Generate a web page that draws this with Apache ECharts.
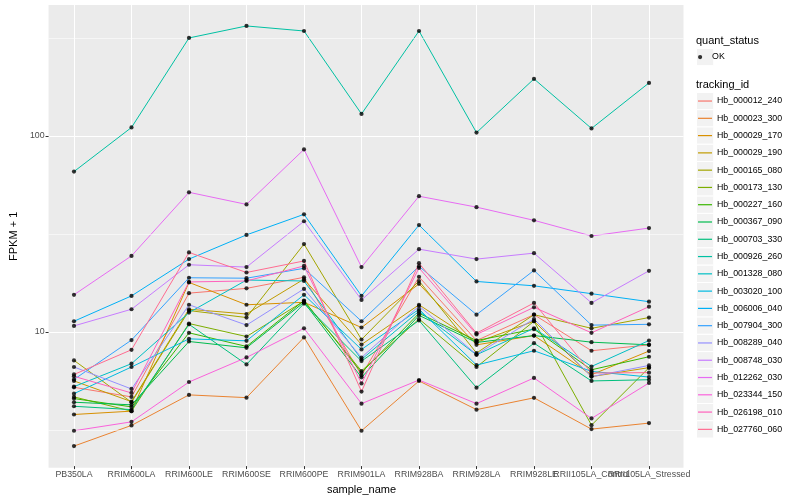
<!DOCTYPE html>
<html>
<head>
<meta charset="utf-8">
<script src="https://cdn.jsdelivr.net/npm/echarts@6/dist/echarts.min.js"></script>
<style>html,body{margin:0;padding:0;background:#fff}#c{width:800px;height:500px}</style>
</head>
<body>
<div id="c"></div>
<script>
const categories = ['PB350LA','RRIM600LA','RRIM600LE','RRIM600SE','RRIM600PE','RRIM901LA','RRIM928BA','RRIM928LA','RRIM928LE','RRII105LA_Control','RRII105LA_Stressed'];
const trackingIds = ['Hb_000012_240','Hb_000023_300','Hb_000029_170','Hb_000029_190','Hb_000165_080','Hb_000173_130','Hb_000227_160','Hb_000367_090','Hb_000703_330','Hb_000926_260','Hb_001328_080','Hb_003020_100','Hb_006006_040','Hb_007904_300','Hb_008289_040','Hb_008748_030','Hb_012262_030','Hb_023344_150','Hb_026198_010','Hb_027760_060'];
const palette = ['#F8766D','#EA8331','#D89000','#C09B00','#A3A500','#7CAE00','#39B600','#00BB4E','#00BF7D','#00C1A3','#00BFC4','#00BAE0','#00B0F6','#35A2FF','#9590FF','#C77CFF','#E76BF3','#FA62DB','#FF62BC','#FF6C91'];

const Hb_000012_240 = [5.14, 4.59, 15.6, 16.5, 18.8, 5.91, 18.9, 8.92, 12.1, 7.91, 8.48];
const Hb_000023_300 = [2.57, 3.28, 4.70, 4.55, 9.25, 3.08, 5.54, 3.95, 4.54, 3.14, 3.37];
const Hb_000029_170 = [3.73, 3.88, 17.7, 13.6, 14.0, 10.4, 17.4, 8.48, 9.46, 5.96, 7.88];
const Hb_000029_190 = [5.54, 4.34, 12.9, 12.2, 18.4, 8.51, 13.6, 8.72, 11.2, 5.83, 6.48];
const Hb_000165_080 = [7.06, 4.31, 12.7, 11.7, 27.8, 9.03, 18.0, 7.70, 12.1, 10.3, 11.7];
const Hb_000173_130 = [4.59, 3.88, 10.9, 9.35, 14.2, 6.23, 11.5, 6.53, 11.2, 3.29, 6.48];
const Hb_000227_160 = [4.50, 4.08, 9.77, 8.32, 14.3, 6.11, 12.3, 8.92, 10.2, 6.32, 7.37];
const Hb_000367_090 = [4.31, 4.18, 8.82, 8.19, 14.0, 5.78, 12.0, 8.72, 9.46, 8.75, 8.48];
const Hb_000703_330 = [4.11, 3.95, 10.8, 6.73, 13.8, 7.00, 11.3, 5.12, 8.65, 5.54, 5.62];
const Hb_000926_260 = [65.4, 110, 316, 364, 343, 129, 343, 103.5, 195, 108.7, 186];
const Hb_001328_080 = [5.18, 6.79, 12.4, 18.2, 18.0, 7.14, 12.6, 7.54, 10.3, 6.57, 8.92];
const Hb_003020_100 = [4.77, 6.53, 9.10, 8.89, 15.3, 8.03, 12.9, 6.68, 7.91, 6.20, 5.80];
const Hb_006006_040 = [11.2, 15.1, 23.3, 31.0, 39.5, 15.1, 34.8, 17.9, 17.0, 15.5, 14.1];
const Hb_007904_300 = [5.64, 8.97, 18.7, 18.6, 20.9, 11.2, 21.4, 12.1, 20.4, 10.7, 10.8];
const Hb_008289_040 = [6.53, 5.04, 13.6, 10.7, 16.4, 7.3, 13.4, 7.57, 11.5, 5.83, 6.65];
const Hb_008748_030 = [10.6, 12.9, 21.8, 21.2, 36.4, 14.4, 26.2, 23.3, 25.0, 13.9, 20.3];
const Hb_012262_030 = [15.3, 24.2, 51.2, 44.4, 84.9, 21.2, 48.9, 43.0, 36.8, 30.6, 33.6];
const Hb_023344_150 = [3.08, 3.42, 5.47, 7.31, 10.3, 4.24, 5.6, 4.24, 5.74, 3.56, 5.41];
const Hb_026198_010 = [5.85, 4.81, 17.8, 18.0, 21.5, 5.38, 21.0, 9.58, 13.2, 9.77, 13.3];
const Hb_027760_060 = [5.98, 8.00, 25.2, 19.9, 22.8, 4.89, 22.2, 9.73, 13.9, 6.08, 6.11];

const seriesValues = [Hb_000012_240, Hb_000023_300, Hb_000029_170, Hb_000029_190, Hb_000165_080, Hb_000173_130, Hb_000227_160, Hb_000367_090, Hb_000703_330, Hb_000926_260, Hb_001328_080, Hb_003020_100, Hb_006006_040, Hb_007904_300, Hb_008289_040, Hb_008748_030, Hb_012262_030, Hb_023344_150, Hb_026198_010, Hb_027760_060];

const yMajorTicks = [10, 100];
const yMinorBreaks = [3.1623, 31.623, 316.23];
const yMin = 2.03, yMax = 466;

const FONT = '"Liberation Sans", Arial, Helvetica, sans-serif';
const chart = echarts.init(document.getElementById('c'), null, {renderer: 'canvas'});

const lineSeries = trackingIds.map((id, i) => ({
  name: id,
  type: 'line',
  xAxisIndex: 1, yAxisIndex: 1,
  data: seriesValues[i],
  showSymbol: false,
  symbol: 'none',
  lineStyle: {color: palette[i], width: 1},
  itemStyle: {color: palette[i]},
  emphasis: {disabled: true},
  z: 3
}));

const pointData = [];
seriesValues.forEach(arr => arr.forEach((v, j) => pointData.push([categories[j], v])));

const keyTop2 = 92.4, keyH = 17.28;
const graphics = [
  {type: 'text', left: 696, top: 35, style: {text: 'quant_status', font: '11px ' + FONT, fill: '#000'}},
  {type: 'text', left: 696, top: 79, style: {text: 'tracking_id', font: '11px ' + FONT, fill: '#000'}},
  {type: 'rect', shape: {x: 696.5, y: 48.4, width: keyH, height: keyH}, style: {fill: '#F2F2F2', stroke: '#fff', lineWidth: 1}, z: -1}
];
trackingIds.forEach((id, i) => {
  graphics.push({type: 'rect', shape: {x: 696.5, y: keyTop2 + i * keyH, width: keyH, height: keyH}, style: {fill: '#F2F2F2', stroke: '#fff', lineWidth: 1}, z: -1});
});

const option = {
  animation: false,
  backgroundColor: '#fff',
  textStyle: {fontFamily: FONT},
  grid: [
    {left: 40, right: 116.5, top: 5, bottom: 32.3, show: true, backgroundColor: '#EBEBEB', borderWidth: 0, containLabel: false},
    {left: 74, right: 151, top: 5, bottom: 32.3, containLabel: false}
  ],
  xAxis: [
    {gridIndex: 0, type: 'value', min: 0, max: 1, show: false},
    {gridIndex: 1, type: 'category', data: categories, boundaryGap: false,
     axisLine: {show: false},
     axisTick: {show: true, length: 3, interval: 0, lineStyle: {color: '#333333', width: 1}},
     axisLabel: {show: true, interval: 0, fontSize: 8.8, color: '#4D4D4D', margin: 4, hideOverlap: false, fontFamily: FONT},
     splitLine: {show: true, interval: 0, lineStyle: {color: '#ffffff', width: 1.07}},
     name: 'sample_name', nameLocation: 'middle', nameGap: 16,
     nameTextStyle: {fontSize: 11, color: '#000', fontFamily: FONT}
    }
  ],
  yAxis: [
    {gridIndex: 0, type: 'log', logBase: 10, min: yMin, max: yMax,
     axisLine: {show: false},
     axisTick: {show: true, length: 3, lineStyle: {color: '#333333', width: 1}, customValues: yMajorTicks},
     axisLabel: {show: true, fontSize: 8.8, color: '#4D4D4D', margin: 4, fontFamily: FONT, customValues: yMajorTicks, formatter: v => String(Math.round(v))},
     splitLine: {show: true, lineStyle: {color: '#ffffff', width: 1.07}},
     name: 'FPKM + 1', nameLocation: 'middle', nameGap: 22, nameRotate: 90,
     nameTextStyle: {fontSize: 11, color: '#000', fontFamily: FONT}
    },
    {gridIndex: 1, type: 'log', logBase: 10, min: yMin, max: yMax, show: false, splitLine: {show: false}}
  ],
  legend: [
    {data: ['OK'], orient: 'vertical', left: 698, top: 48.4, padding: 0, icon: 'circle', itemWidth: 14, itemHeight: 4.2, itemGap: 0,
     textStyle: {fontSize: 8.8, color: '#000', lineHeight: keyH, fontFamily: FONT}, selectedMode: false},
    {data: trackingIds, orient: 'vertical', left: 698, top: keyTop2, padding: 0, icon: 'rect', itemWidth: 14, itemHeight: 1.2, itemGap: 0,
     textStyle: {fontSize: 8.8, color: '#000', lineHeight: keyH, fontFamily: FONT}, selectedMode: false}
  ],
  graphic: graphics,
  series: [
    {name: 'minor-grid', type: 'line', xAxisIndex: 0, yAxisIndex: 0, data: [], z: 1, silent: true,
     markLine: {silent: true, symbol: 'none', label: {show: false}, animation: false,
       lineStyle: {color: '#ffffff', width: 0.55, type: 'solid'},
       emphasis: {disabled: true},
       data: yMinorBreaks.map(v => ({yAxis: v}))}},
    ...lineSeries,
    {name: 'OK', type: 'scatter', xAxisIndex: 1, yAxisIndex: 1, data: pointData, symbol: 'circle', symbolSize: 4.2,
     itemStyle: {color: '#000000'}, emphasis: {disabled: true}, z: 5}
  ]
};
chart.setOption(option);
</script>
</body>
</html>
